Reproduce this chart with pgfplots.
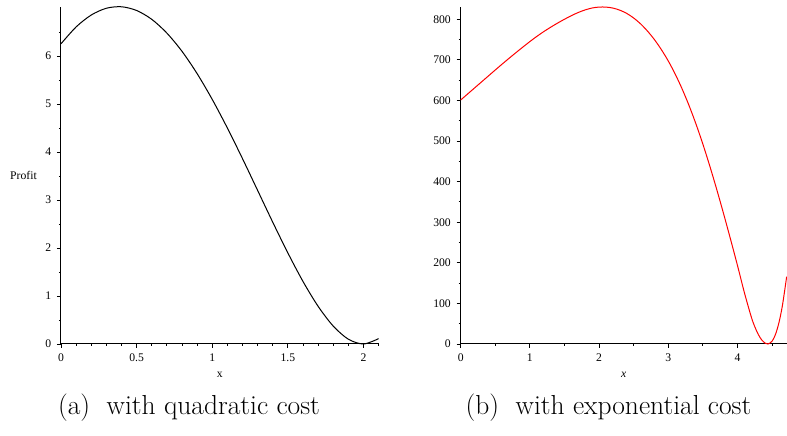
\documentclass[border=0pt]{standalone}
\usepackage{fontspec}
\usepackage{pgfplots}
\pgfplotsset{compat=1.18}
\newfontfamily\maplefont{Liberation Serif}

\pgfplotsset{
  maple/.style={
    scale only axis,
    anchor=south west,
    height=202.4pt,
    axis x line=bottom,
    axis y line=left,
    axis line style={-, line width=0.6pt, black},
    tick align=outside,
    major tick length=2.4pt,
    minor tick length=1.2pt,
    every tick/.style={black, line width=0.5pt},
    tick label style={font=\fontsize{7}{8}\maplefont},
    /pgf/number format/assume math mode=true,
    label style={font=\fontsize{7}{8}\maplefont},
    xlabel style={at={(rel axis cs:0.5,0)}, anchor=center, yshift=-18.6pt},
    ymin=0, xmin=0,
    clip=false,
  }
}

\begin{document}
\begin{tikzpicture}
\useasboundingbox (0,0) rectangle (472.2pt,261.6pt);

% (a) quadratic cost
\begin{axis}[maple,
  at={(36.6pt,55.2pt)}, width=190.6pt,
  xmax=2.1, ymax=7.03,
  xtick={0,0.5,1,1.5,2},
  xticklabels={0,0.5,1,1.5,2},
  minor xtick={0.1,0.2,0.3,0.4,0.6,0.7,0.8,0.9,1.1,1.2,1.3,1.4,1.6,1.7,1.8,1.9,2.1},
  ytick={0,1,2,3,4,5,6},
  minor ytick={0.5,1.5,2.5,3.5,4.5,5.5,6.5},
  xlabel={x},
  ylabel={Profit},
  ylabel style={at={(rel axis cs:0,0.5)}, rotate=-90, anchor=east, xshift=-11pt},
]
\addplot[black, line width=0.6pt, smooth] coordinates {
  (0,6.256) (0.1,6.608) (0.2,6.856) (0.3,6.997) (0.4,7.028) (0.5,6.950)
  (0.6,6.766) (0.7,6.479) (0.8,6.099) (0.9,5.634) (1.0,5.096) (1.1,4.500)
  (1.2,3.862) (1.3,3.200) (1.4,2.537) (1.5,1.896) (1.6,1.302) (1.7,0.784)
  (1.8,0.372) (1.9,0.099) (2.0,0) (2.1,0.112)
};
\end{axis}

% (b) exponential cost
\begin{axis}[maple,
  at={(276.4pt,55.2pt)}, width=195.6pt,
  xmax=4.71, ymax=831,
  xtick={0,1,2,3,4},
  minor xtick={0.5,1.5,2.5,3.5,4.5},
  ytick={0,100,200,300,400,500,600,700,800},
  minor ytick={50,150,250,350,450,550,650,750},
  xlabel={\itshape x},
]
\addplot[red, line width=0.6pt, smooth] coordinates {
  (0,601) (0.1,615.8) (0.2,630.6) (0.3,645.4) (0.4,660.2) (0.5,675)
  (0.6,689.6) (0.7,703.9) (0.8,717.9) (0.9,731.6) (1.0,745)
  (1.1,757.7) (1.2,769.5) (1.3,780.3) (1.4,790.5) (1.5,800)
  (1.6,808.9) (1.7,816.7) (1.8,823.1) (1.9,827.7) (2.0,830)
  (2.1,829.9) (2.2,827.5) (2.3,822.3) (2.4,814.3) (2.5,803)
  (2.6,788.5) (2.7,770.7) (2.8,749.7) (2.9,725.1) (3.0,697)
  (3.1,664.8) (3.2,628.2) (3.3,587.2) (3.4,541.8) (3.5,492)
  (3.6,438) (3.7,380.5) (3.8,320.1) (3.9,257.4) (4.0,193)
  (4.1,126) (4.2,66) (4.25,42.3) (4.3,23.5) (4.35,9.9) (4.4,2.0)
  (4.44,0) (4.5,7) (4.55,24.3) (4.6,53.6) (4.65,96.1) (4.71,166)
};
\end{axis}

\node[font=\fontsize{16.5}{19}\selectfont] at (113.4pt,16.8pt) {(a)\hspace{0.3em} with quadratic cost};
\node[font=\fontsize{16.5}{19}\selectfont] at (365.1pt,16.8pt) {(b)\hspace{0.3em} with exponential cost};
\end{tikzpicture}
\end{document}
